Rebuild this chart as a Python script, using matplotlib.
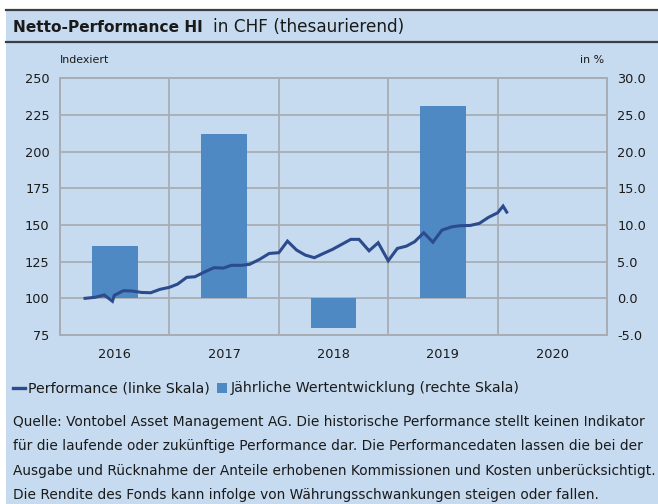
import matplotlib
matplotlib.use("Agg")
import matplotlib.pyplot as plt
import numpy as np
from matplotlib.lines import Line2D
from matplotlib.patches import Rectangle

plt.rcParams['font.family'] = ['DejaVu Sans']

# annual performance (right scale, in %)
years = [2016, 2017, 2018, 2019, 2020]
annual_returns = [7.1, 22.4, -4.0, 26.2, np.nan]

# indexed performance (left scale), months since Jan 2016
perf_months = [2.75, 3.85, 4.85, 5.75, 5.95, 6.95, 7.9, 8.95, 9.95, 10.95,
               12.0, 12.9, 13.9, 14.8, 15.9, 16.9, 17.9, 18.8, 19.9, 20.8,
               21.9, 22.95, 24.0, 24.95, 25.95, 26.9, 27.9, 28.9, 29.9, 30.9,
               31.9, 32.8, 33.9, 34.9, 36.0, 37.0, 38.0, 38.9, 39.9, 40.9,
               41.9, 43.0, 43.9, 45.0, 46.0, 47.0, 48.0, 48.6, 49.0]
perf_index = [100, 100.7, 102.3, 98, 102, 105.2, 105, 104, 103.8, 106.1,
              107.5, 109.7, 114.3, 114.7, 118.1, 120.9, 120.6, 122.5, 122.5, 123.2,
              126.6, 130.6, 131.1, 139, 132.9, 129.5, 127.7, 130.6, 133.4, 136.8,
              140.2, 140.2, 132.4, 137.9, 125.6, 134, 135.6, 138.6, 144.7, 138.3,
              146.5, 148.8, 149.5, 149.7, 151.1, 155.2, 158.3, 162.9, 158.8]

left_ticks = [75, 100, 125, 150, 175, 200, 225, 250]
right_ticks = [-5, 0, 5, 10, 15, 20, 25, 30]

legend_labels = ['Performance (linke Skala)', 'Jährliche Wertentwicklung (rechte Skala)']
footer = ['Quelle: Vontobel Asset Management AG. Die historische Performance stellt keinen Indikator',
          'für die laufende oder zukünftige Performance dar. Die Performancedaten lassen die bei der',
          'Ausgabe und Rücknahme der Anteile erhobenen Kommissionen und Kosten unberücksichtigt.',
          'Die Rendite des Fonds kann infolge von Währungsschwankungen steigen oder fallen.']

bg = '#c6dbf0'
bar_col = '#4f89c4'
line_col = '#2b4b8c'
grid_col = '#a8adb3'
dark = '#3b3f45'
txt = '#1a1a1a'

W, H = 658, 504
fig = plt.figure(figsize=(W / 100, H / 100), dpi=100, facecolor='white')
renderer = fig.canvas.get_renderer()


def fit(t, width_px):
    # scale the font so the text spans the width measured on the reference
    bb = t.get_window_extent(renderer)
    t.set_fontsize(t.get_fontsize() * width_px / bb.width)
    return t


def fx(px):
    return px / W


def fy(py):
    return 1 - py / H


# background panel + header lines
fig.add_artist(Rectangle((fx(6), 0), 1 - fx(6), fy(10), transform=fig.transFigure,
                         facecolor=bg, edgecolor='none', zorder=0))
for yy in (10, 42):
    fig.add_artist(Line2D([fx(6), 1], [fy(yy), fy(yy)], transform=fig.transFigure,
                          color=dark, lw=1.6, zorder=1))

fit(fig.text(fx(13), fy(27), 'Netto-Performance HI', fontsize=12, fontweight='bold',
             va='center', ha='left', color=txt), 190)
fit(fig.text(fx(213), fy(27), 'in CHF (thesaurierend)', fontsize=12,
             va='center', ha='left', color=txt), 190)

# axes
x0, x1, ytop, ybot = 60, 607, 78.3, 335
ax_r = fig.add_axes([fx(x0), fy(ybot), (x1 - x0) / W, (ybot - ytop) / H])
ax_l = ax_r.twinx()
ax_l.set_zorder(ax_r.get_zorder() + 1)
ax_l.patch.set_visible(False)
ax_r.set_facecolor(bg)

# bars on the right scale
ax_r.bar(np.array(years) + 0.5, annual_returns, width=0.42, color=bar_col, zorder=2)
ax_r.set_ylim(-5, 30)
ax_r.set_yticks(right_ticks)
ax_r.set_yticklabels([f'{v:.1f}' for v in right_ticks])
ax_r.yaxis.tick_right()
ax_r.set_xlim(2016, 2021)
ax_r.set_xticks(np.array(years) + 0.5)
ax_r.set_xticklabels([str(y) for y in years])
ax_r.set_xticks(list(range(2017, 2021)), minor=True)
ax_r.grid(True, axis='y', color=grid_col, lw=1.3)
ax_r.grid(True, axis='x', which='minor', color=grid_col, lw=1.3)
ax_r.set_axisbelow(True)
ax_r.tick_params(which='both', length=0, labelsize=9.3, colors=txt)
ax_r.tick_params(axis='y', pad=7.5)
ax_r.tick_params(axis='x', pad=9)

# line on the left scale
perf_t = 2016 + np.array(perf_months) / 12
ax_l.plot(perf_t, perf_index, color=line_col, lw=2.2, solid_joinstyle='miter', zorder=3)
ax_l.set_ylim(75, 250)
ax_l.set_yticks(left_ticks)
ax_l.yaxis.tick_left()
ax_l.tick_params(which='both', length=0, labelsize=9.3, colors=txt, pad=7.5)
ax_l.set_xlim(2016, 2021)

for a in (ax_r, ax_l):
    for s in a.spines.values():
        s.set_color(grid_col)
        s.set_linewidth(1.3)

idx = fit(fig.text(fx(60), fy(60), 'Indexiert', fontsize=8, va='center', ha='left',
                   color=txt), 49)
fig.text(fx(604), fy(60), 'in %', fontsize=idx.get_fontsize(), va='center', ha='right',
         color=txt)

# legend, laid out like the reference
ly = 388
fig.add_artist(Line2D([fx(13), fx(25)], [fy(ly), fy(ly)], transform=fig.transFigure,
                      color=line_col, lw=2.4))
lab1 = fit(fig.text(fx(28), fy(ly), legend_labels[0], fontsize=10, va='center', ha='left',
                    color=txt), 178)
lab2 = fig.text(0, fy(ly), legend_labels[1], fontsize=10, va='center', ha='left', color=txt)
fit(lab2, 294)
leg_fs = (lab1.get_fontsize() + lab2.get_fontsize()) / 2
lab1.set_fontsize(leg_fs)
lab2.set_fontsize(leg_fs)
end1 = lab1.get_window_extent(renderer).x1
sq_x = end1 + 7
fig.add_artist(Rectangle((fx(sq_x), fy(ly + 5)), 10 / W, 10 / H, transform=fig.transFigure,
                         facecolor=bar_col, edgecolor='none'))
lab2.set_x(fx(sq_x + 14))

foot_texts = [fig.text(fx(13), fy(422 + 24.3 * i), line, fontsize=10, va='center',
                       ha='left', color=txt) for i, line in enumerate(footer)]
fit(foot_texts[2], 641)
for t in foot_texts:
    t.set_fontsize(foot_texts[2].get_fontsize())

fig.savefig('out.png', dpi=100, facecolor=fig.get_facecolor())
